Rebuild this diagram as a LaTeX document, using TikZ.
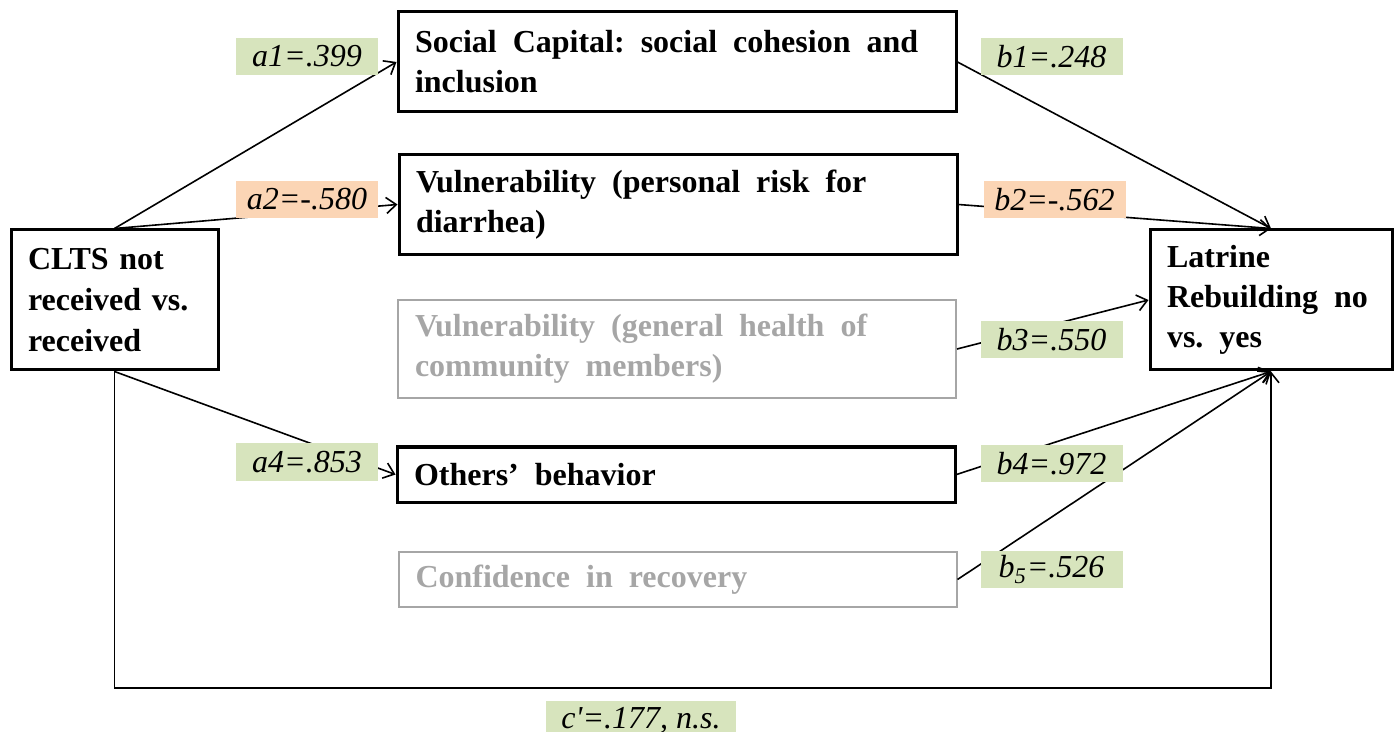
\documentclass[tikz,border=0pt]{standalone}
\usepackage{fontspec}
\setmainfont{Liberation Serif}
\usetikzlibrary{arrows.meta}
\definecolor{labgreen}{HTML}{D7E4BD}
\definecolor{laborange}{HTML}{FBD5B5}
\definecolor{boxgray}{HTML}{A6A6A6}
\newcommand\widewords{\spaceskip=0.5em\xspaceskip=0.5em\relax}

\begin{document}
\begin{tikzpicture}[x=0.5pt,y=-0.5pt,
  varbox/.style={draw, line width=1.5pt, align=left, inner xsep=8.5pt, inner ysep=0pt,
    font=\fontsize{16}{20}\selectfont\bfseries, execute at begin node=\widewords},
  midbox/.style={varbox, text width=262pt, minimum height=#1},
  greybox/.style={midbox=#1, draw=boxgray, line width=1pt, text=boxgray},
  coef/.style={fill=#1, minimum width=71pt, minimum height=18.5pt, inner sep=0pt,
    font=\fontsize{16}{20}\selectfont\itshape},
  conn/.style={line width=0.8pt, -{Straight Barb[length=5pt,width=8pt]}}]
\useasboundingbox (0,0) rectangle (1397,732);
% outer variables
\node[draw, line width=1.5pt, align=left, inner xsep=8.5pt, inner ysep=0pt, text width=86.5pt,
  minimum height=70pt, font=\fontsize{16}{20.5}\selectfont\bfseries] (clts) at (114.5,300) {CLTS not\\received vs.\\received};
\node[varbox, text width=104pt, minimum height=70pt] (lat) at (1271,300) {Latrine\\Rebuilding no\\vs. yes};
% mediators
\node[midbox=50pt] (soc) at (677,62) {Social Capital: social cohesion and\\inclusion};
\node[midbox=50pt] (vp) at (678,204.5) {Vulnerability (personal risk for\\diarrhea)};
\node[greybox=49pt] (vg) at (677,349) {Vulnerability (general health of\\community members)};
\node[midbox=27.5pt] (oth) at (676,474.5) {Others’ behavior};
\node[greybox=27.5pt] (conf) at (677.5,579.5) {Confidence in recovery};
% paths
\coordinate (cbase) at (0,688);
\draw[conn] (clts.north) -- (soc.west);
\draw[conn] (clts.north) -- (vp.west);
\draw[conn] (clts.south) -- (oth.west);
\draw[conn] (soc.east) -- (lat.north);
\draw[conn] (vp.east) -- (lat.north);
\draw[conn] (vg.east) -- (lat.west);
\draw[conn] (oth.east) -- (lat.south);
\draw[conn] (conf.east) -- (lat.south);
\draw[conn] (clts.south) -- (clts.south |- cbase) -- (lat.south |- cbase) -- (lat.south);
% coefficients
\node[coef=labgreen] (a1) at (307,56.5) {a1=.399};
\node[coef=laborange] (a2) at (307,199.5) {a2=-.580};
\node[coef=labgreen] (a4) at (307,462) {a4=.853};
\node[coef=labgreen] (b1) at (1051.5,56.5) {b1=.248};
\node[coef=laborange] (b2) at (1054.5,199.5) {b2=-.562};
\node[coef=labgreen] (b3) at (1051.5,339.5) {b3=.550};
\node[coef=labgreen] (b4) at (1051.5,463.5) {b4=.972};
\node[coef=labgreen] (b5) at (1051.5,569.5) {b\textsubscript{5}=.526};
\node[coef=labgreen, minimum width=95pt, minimum height=19pt] (cp) at (641,720) {c\textquotesingle=.177, n.s.};
\end{tikzpicture}
\end{document}
